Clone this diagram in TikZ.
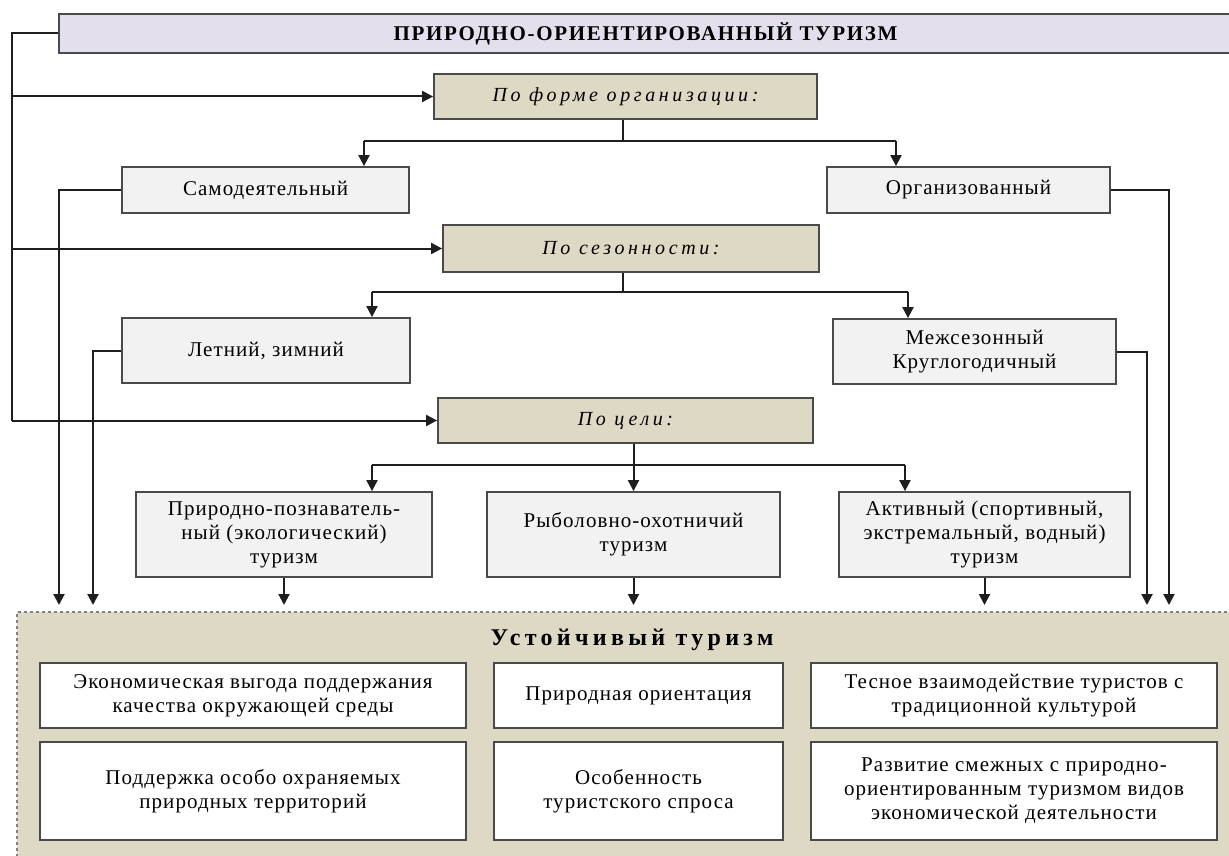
\documentclass[tikz,border=0pt]{standalone}
\usepackage{fontspec}
\setmainfont{Liberation Serif}
\usetikzlibrary{arrows.meta}
\definecolor{lav}{HTML}{E4DFEC}
\definecolor{tanc}{HTML}{DDD9C4}
\definecolor{grayc}{HTML}{F2F2F2}
\definecolor{bordc}{HTML}{4A4A4A}
\definecolor{linec}{HTML}{1E1E1E}
\newcommand{\fs}{\fontsize{21}{24}\selectfont\addfontfeatures{LetterSpace=5}}
\newcommand{\fsit}{\fontsize{20}{24}\selectfont\itshape\addfontfeatures{LetterSpace=18}}
\newcommand{\fshead}{\fontsize{21}{24}\selectfont\bfseries\addfontfeatures{LetterSpace=8}}
\newcommand{\fsbig}{\fontsize{24}{26}\selectfont\bfseries\addfontfeatures{LetterSpace=18}}

\begin{document}
\begin{tikzpicture}[x=1pt,y=-1pt,
  box/.style={draw=bordc,line width=1.8pt,inner sep=2pt,font=\fs,align=center},
  head/.style={box,fill=lav,font=\fshead},
  cat/.style={box,fill=tanc,font=\fsit},
  kind/.style={box,fill=grayc},
  feat/.style={box,fill=white},
  ln/.style={line width=2pt,draw=linec},
  arr/.style={ln,-{Triangle[length=11pt,width=11pt]}}]
  \useasboundingbox (0,0) rectangle (1229,856);
  \node[fill=tanc,draw=gray,dashed,line width=1.2pt,minimum width=1223,minimum height=258] (base) at (628.5,741) {};
  \node[font=\fsbig] (sust) at (632,640) {Устойчивый туризм};
  \node[head,minimum width=1173,minimum height=39] (top) at (645.5,33.5) {ПРИРОДНО-ОРИЕНТИРОВАННЫЙ ТУРИЗМ};
  \node[cat,minimum width=383,minimum height=45] (f1) at (625.5,96.5) {По форме организации:};
  \node[cat,minimum width=376,minimum height=47] (f2) at (631,248.5) {По сезонности:};
  \node[cat,minimum width=375,minimum height=45] (f3) at (625.5,420.5) {По цели:};
  \node[kind,minimum width=287,minimum height=46] (s1) at (265.5,190) {Самодеятельный};
  \node[kind,minimum width=283,minimum height=46] (s2) at (968.5,190) {Организованный};
  \node[kind,minimum width=288,minimum height=65] (l1) at (266,350.5) {Летний, зимний};
  \node[kind,minimum width=283,minimum height=65] (l2) at (974.5,351.5) {Межсезонный\\Круглогодичный};
  \node[kind,minimum width=296,minimum height=85] (r1) at (284,534.5) {Природно-познаватель-\\ный (экологический)\\туризм};
  \node[kind,minimum width=293,minimum height=85] (r2) at (633.5,534.5) {Рыболовно-охотничий\\туризм};
  \node[kind,minimum width=291,minimum height=85] (r3) at (984.5,534.5) {Активный (спортивный,\\экстремальный, водный)\\туризм};
  \node[feat,minimum width=426,minimum height=65] (c1) at (253,695.5) {Экономическая выгода поддержания\\качества окружающей среды};
  \node[feat,minimum width=289,minimum height=65] (c2) at (638.5,695.5) {Природная ориентация};
  \node[feat,minimum width=406,minimum height=65] (c3) at (1014,695.5) {Тесное взаимодействие туристов с\\традиционной культурой};
  \node[feat,minimum width=426,minimum height=98] (d1) at (253,791) {Поддержка особо охраняемых\\природных территорий};
  \node[feat,minimum width=289,minimum height=98] (d2) at (638.5,791) {Особенность\\туристского спроса};
  \node[feat,minimum width=406,minimum height=98] (d3) at (1014,791) {Развитие смежных с природно-\\ориентированным туризмом видов\\экономической деятельности};
  \coordinate (bus) at (12,0);
  \draw[ln] (top.west) -| (bus |- f3.west);
  \draw[arr] (bus |- f1.west) -- (f1.west);
  \draw[arr] (bus |- f2.west) -- (f2.west);
  \draw[arr] (bus |- f3.west) -- (f3.west);
  \coordinate (j1) at (623,141);
  \coordinate (a1) at (364,141);
  \coordinate (b1) at (896,141);
  \draw[ln] (f1.south -| j1) -- (j1);
  \draw[ln] (a1) -- (b1);
  \draw[arr] (a1) -- (a1 |- s1.north);
  \draw[arr] (b1) -- (b1 |- s2.north);
  \coordinate (j2) at (623,292);
  \coordinate (a2) at (372,292);
  \coordinate (b2) at (908,292);
  \draw[ln] (f2.south -| j2) -- (j2);
  \draw[ln] (a2) -- (b2);
  \draw[arr] (a2) -- (a2 |- l1.north);
  \draw[arr] (b2) -- (b2 |- l2.north);
  \coordinate (a3) at (372,465);
  \coordinate (b3) at (905,465);
  \draw[arr] (r2.north |- f3.south) -- (r2.north);
  \draw[ln] (a3) -- (b3);
  \draw[arr] (a3) -- (a3 |- r1.north);
  \draw[arr] (b3) -- (b3 |- r3.north);
  \coordinate (gap) at (0,605);
  \coordinate (g1) at (59,605);
  \coordinate (g2) at (93,605);
  \coordinate (g3) at (1169,605);
  \coordinate (g4) at (1147,605);
  \draw[arr] (s1.west) -| (g1);
  \draw[arr] (l1.west) -| (g2);
  \draw[arr] (s2.east) -| (g3);
  \draw[arr] (l2.east) -| (g4);
  \draw[arr] (r1.south) -- (r1.south |- gap);
  \draw[arr] (r2.south) -- (r2.south |- gap);
  \draw[arr] (r3.south) -- (r3.south |- gap);
\end{tikzpicture}
\end{document}
